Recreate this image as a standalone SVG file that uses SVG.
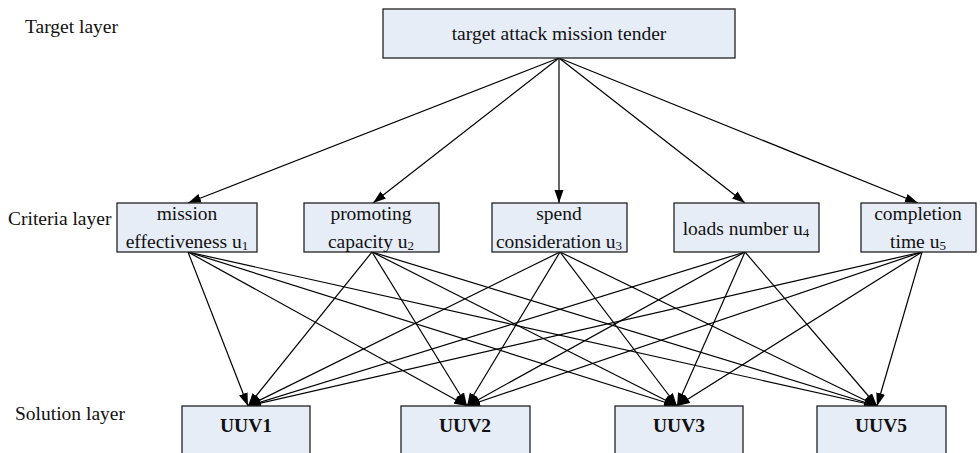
<svg xmlns="http://www.w3.org/2000/svg" width="980" height="453" viewBox="0 0 980 453">
<style>
  .box{fill:#E7EDF7;stroke:#222;stroke-width:1.3}
  .t{font-family:"Liberation Serif","Times New Roman",serif;font-size:19.5px;fill:#111}
  .c{text-anchor:middle}
  .b{font-weight:bold}
  .sub{font-size:13px}
  .edge{stroke:#000;stroke-width:1.2;fill:none;marker-end:url(#ah)}
</style>
<defs>
  <marker id="ah" markerUnits="userSpaceOnUse" markerWidth="14" markerHeight="10" refX="13" refY="5" orient="auto">
    <path d="M0,0.5 L13,5 L0,9.5 z" fill="#000"/>
  </marker>
</defs>
<rect width="980" height="453" fill="#fff"/>
<text class="t" x="25" y="33">Target layer</text>
<text class="t" x="8" y="225">Criteria layer</text>
<text class="t" x="15" y="420">Solution layer</text>

<g id="connectors">
  <line class="edge" x1="559" y1="58" x2="188" y2="203"/>
  <line class="edge" x1="559" y1="58" x2="373" y2="203"/>
  <line class="edge" x1="559" y1="58" x2="559" y2="203"/>
  <line class="edge" x1="559" y1="58" x2="745" y2="203"/>
  <line class="edge" x1="559" y1="58" x2="918" y2="203"/>

  <line class="edge" x1="188" y1="252" x2="248" y2="406"/>
  <line class="edge" x1="188" y1="252" x2="467" y2="406"/>
  <line class="edge" x1="188" y1="252" x2="677" y2="406"/>
  <line class="edge" x1="188" y1="252" x2="877" y2="406"/>

  <line class="edge" x1="372" y1="252" x2="248" y2="406"/>
  <line class="edge" x1="372" y1="252" x2="467" y2="406"/>
  <line class="edge" x1="372" y1="252" x2="677" y2="406"/>
  <line class="edge" x1="372" y1="252" x2="877" y2="406"/>

  <line class="edge" x1="560" y1="252" x2="248" y2="406"/>
  <line class="edge" x1="560" y1="252" x2="467" y2="406"/>
  <line class="edge" x1="560" y1="252" x2="677" y2="406"/>
  <line class="edge" x1="560" y1="252" x2="877" y2="406"/>

  <line class="edge" x1="745" y1="252" x2="248" y2="406"/>
  <line class="edge" x1="745" y1="252" x2="467" y2="406"/>
  <line class="edge" x1="745" y1="252" x2="677" y2="406"/>
  <line class="edge" x1="745" y1="252" x2="877" y2="406"/>

  <line class="edge" x1="922" y1="252" x2="248" y2="406"/>
  <line class="edge" x1="922" y1="252" x2="467" y2="406"/>
  <line class="edge" x1="922" y1="252" x2="677" y2="406"/>
  <line class="edge" x1="922" y1="252" x2="877" y2="406"/>
</g>

<g id="target">
  <rect class="box" x="383" y="9" width="352" height="49"/>
  <text class="t c" x="559" y="40">target attack mission tender</text>
</g>

<g id="u1">
  <rect class="box" x="117" y="203" width="140" height="49"/>
  <text class="t c" x="187" y="220">mission</text>
  <text class="t c" x="187" y="248">effectiveness u<tspan class="sub" dy="2">1</tspan></text>
</g>
<g id="u2">
  <rect class="box" x="304" y="203" width="135" height="49"/>
  <text class="t c" x="371" y="220">promoting</text>
  <text class="t c" x="371" y="248">capacity u<tspan class="sub" dy="2">2</tspan></text>
</g>
<g id="u3">
  <rect class="box" x="492" y="203" width="135" height="49"/>
  <text class="t c" x="559" y="220">spend</text>
  <text class="t c" x="559" y="248">consideration u<tspan class="sub" dy="2">3</tspan></text>
</g>
<g id="u4">
  <rect class="box" x="674" y="203" width="145" height="49"/>
  <text class="t c" x="746" y="235">loads number u<tspan class="sub" dy="2">4</tspan></text>
</g>
<g id="u5">
  <rect class="box" x="861" y="203" width="115" height="49"/>
  <text class="t c" x="918" y="220">completion</text>
  <text class="t c" x="918" y="248">time u<tspan class="sub" dy="2">5</tspan></text>
</g>

<g id="uuv1">
  <rect class="box" x="182" y="406" width="128" height="60"/>
  <text class="t c b" x="246" y="432">UUV1</text>
</g>
<g id="uuv2">
  <rect class="box" x="401" y="406" width="129" height="60"/>
  <text class="t c b" x="465" y="432">UUV2</text>
</g>
<g id="uuv3">
  <rect class="box" x="615" y="406" width="128" height="60"/>
  <text class="t c b" x="679" y="432">UUV3</text>
</g>
<g id="uuv5">
  <rect class="box" x="817" y="406" width="129" height="60"/>
  <text class="t c b" x="881" y="432">UUV5</text>
</g>
</svg>
